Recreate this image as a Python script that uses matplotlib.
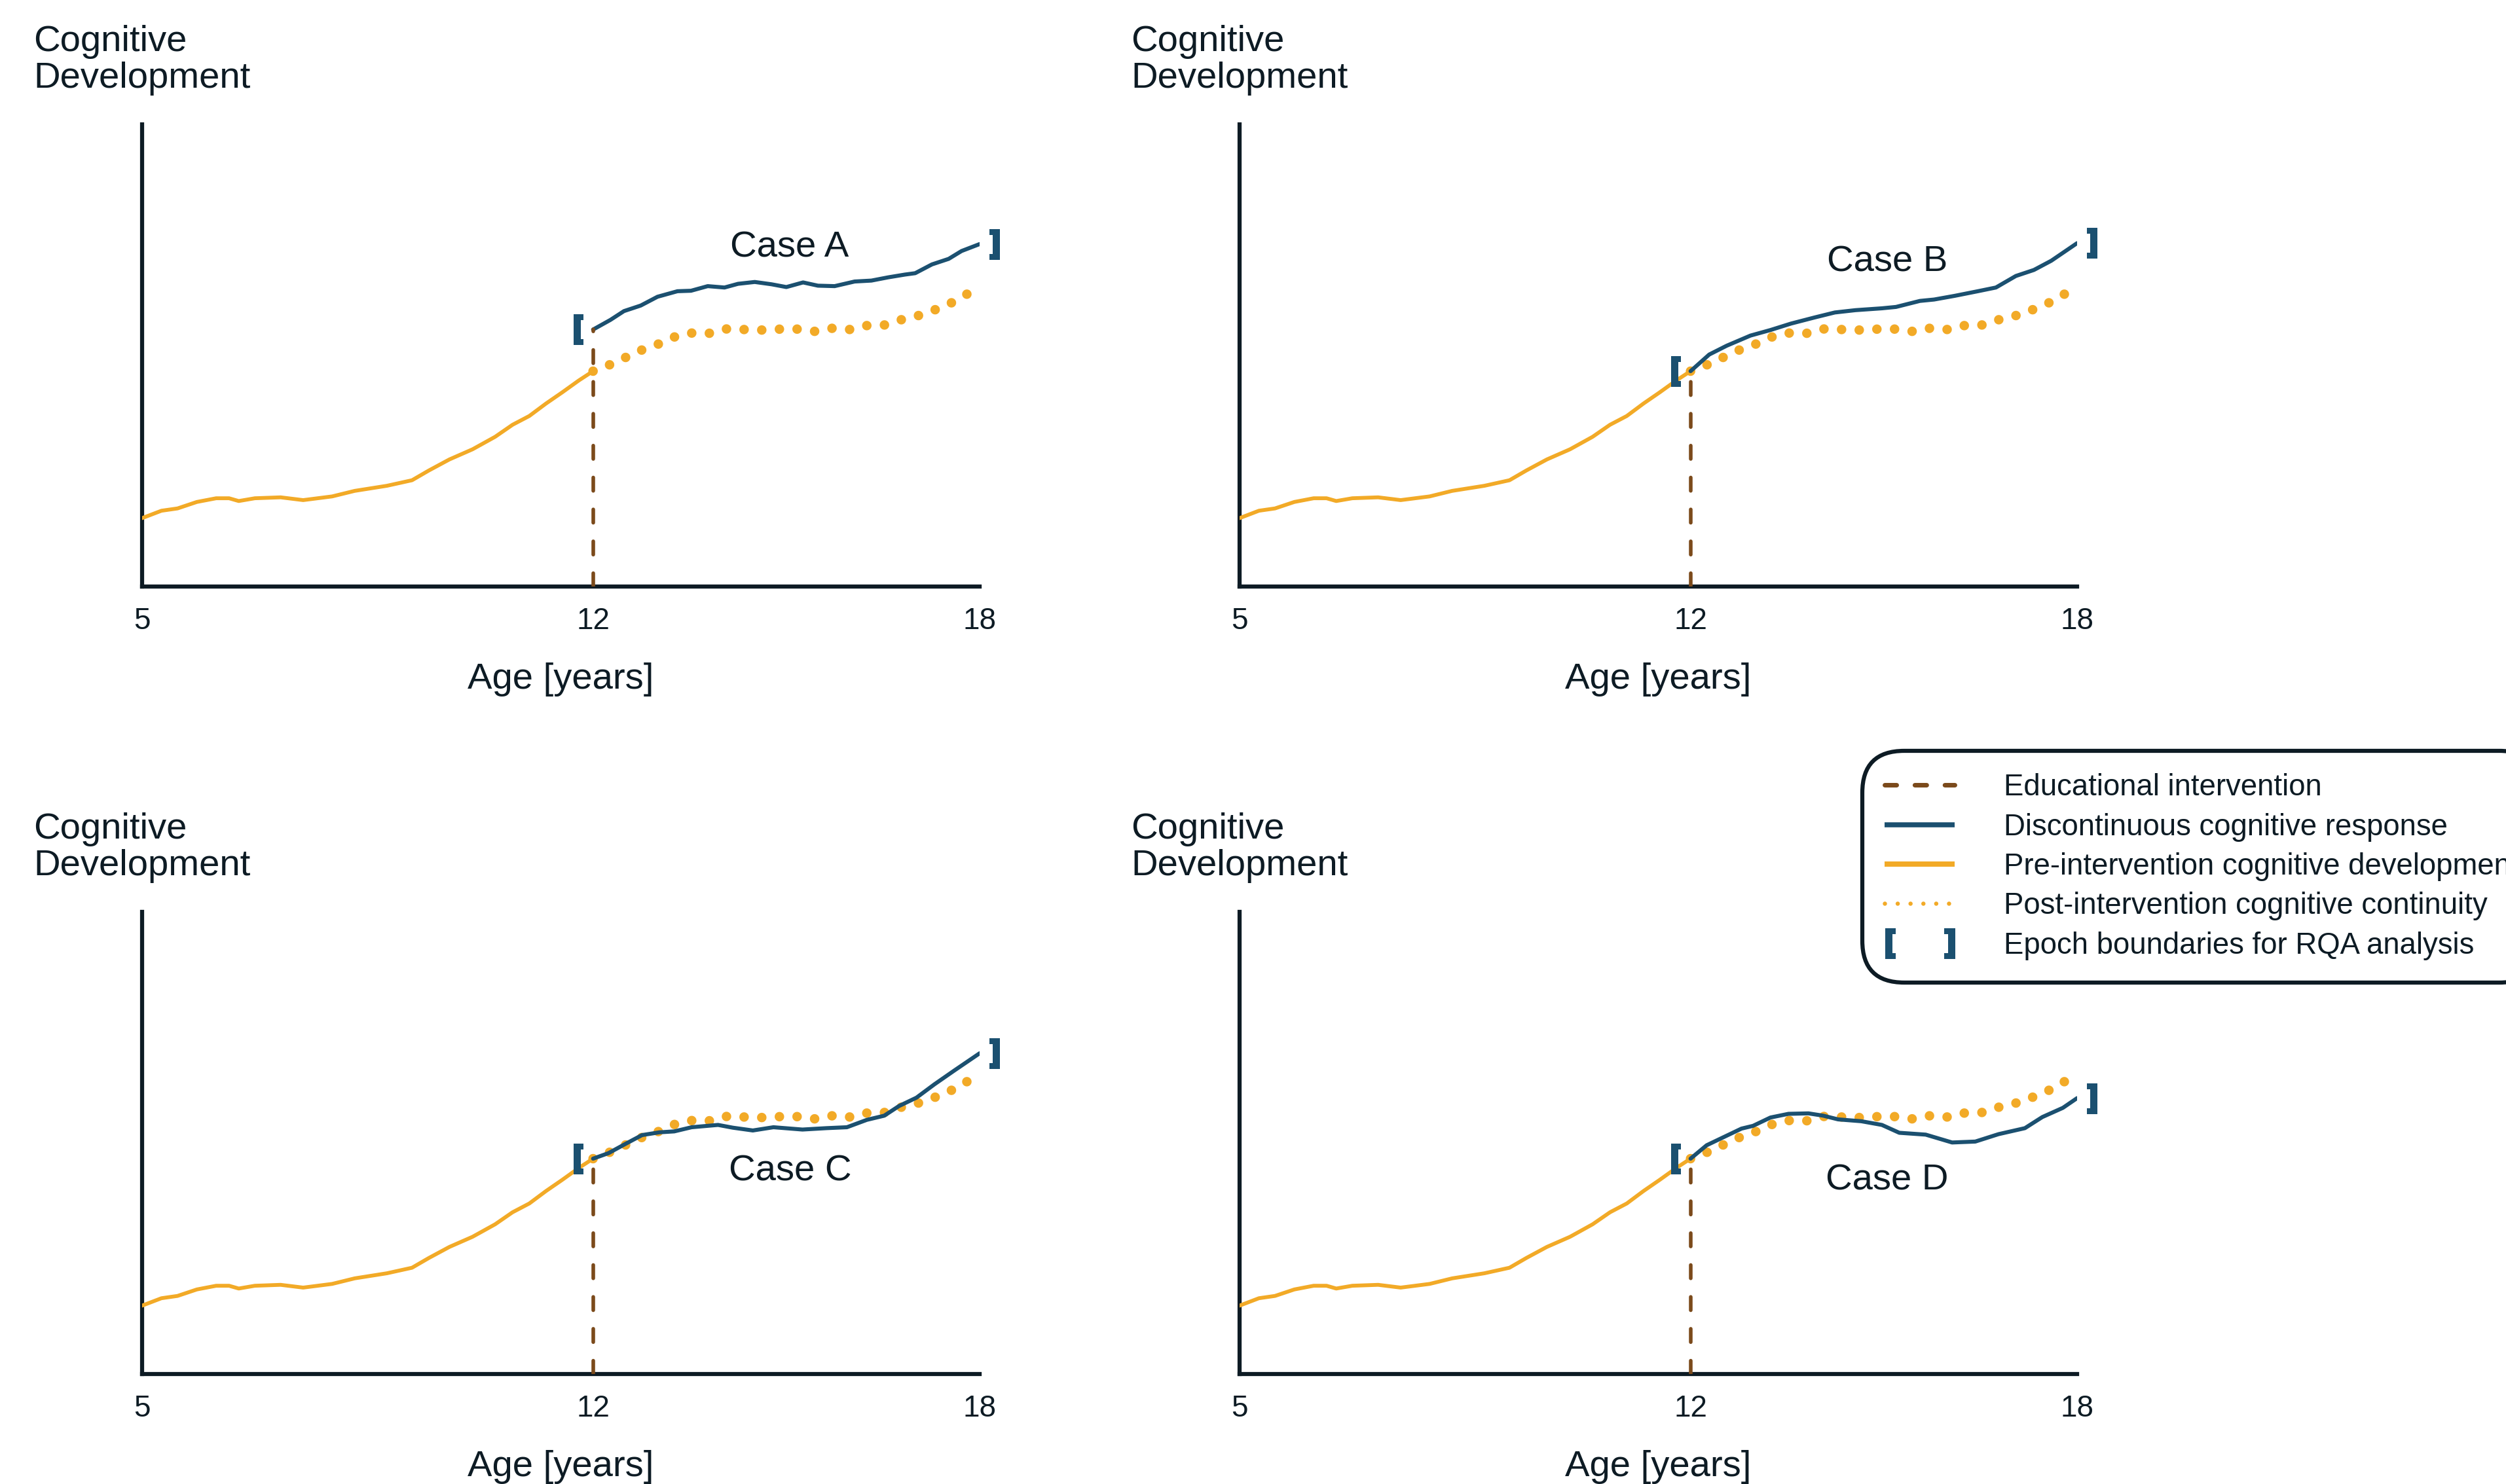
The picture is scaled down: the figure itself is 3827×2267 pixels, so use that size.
import matplotlib
matplotlib.use('Agg')
import matplotlib.pyplot as plt
from matplotlib.path import Path
from matplotlib.lines import Line2D
from matplotlib.transforms import offset_copy

# values (age in years, development in arbitrary 0-100 units)
pre_age = [5.0, 5.3, 5.55, 5.85, 6.15, 6.35, 6.5, 6.75, 7.15, 7.5, 7.95, 8.3,
           8.8, 9.19, 9.45, 9.77, 10.13, 10.48, 10.75, 11.01, 11.27, 11.52, 11.78, 12.0]
pre_val = [14.8, 16.4, 16.9, 18.3, 19.1, 19.1, 18.5, 19.1, 19.3, 18.7, 19.5, 20.7,
           21.8, 23.0, 25.1, 27.5, 29.7, 32.4, 35.0, 36.9, 39.6, 42.0, 44.6, 46.6]

cont_age = [12.0, 12.26, 12.51, 12.76, 13.02, 13.28, 13.55, 13.82, 14.09, 14.36, 14.62, 14.91,
            15.17, 15.45, 15.72, 16.0, 16.26, 16.53, 16.8, 17.07, 17.33, 17.58, 17.82, 18.0]
cont_val = [46.6, 48.0, 49.6, 51.2, 52.5, 54.1, 54.9, 54.8, 55.8, 55.6, 55.5, 55.7,
            55.7, 55.2, 55.9, 55.6, 56.5, 56.6, 57.8, 58.7, 60.0, 61.5, 63.4, 64.5]

a_age = [12.0, 12.27, 12.48, 12.74, 13.0, 13.31, 13.52, 13.78, 14.04, 14.25, 14.51, 14.77, 15.0,
         15.26, 15.49, 15.75, 16.06, 16.32, 16.58, 16.84, 17.0, 17.26, 17.52, 17.72, 18.0]
a_val = [55.6, 57.7, 59.6, 60.8, 62.7, 63.9, 64.0, 65.0, 64.7, 65.5, 65.9, 65.4, 64.8,
         65.8, 65.1, 65.0, 66.0, 66.2, 66.9, 67.5, 67.8, 69.7, 70.9, 72.6, 74.1]

b_age = [12.0, 12.29, 12.56, 12.93, 13.24, 13.56, 13.92, 14.24, 14.56, 14.97,
         15.19, 15.56, 15.78, 16.10, 16.46, 16.74, 17.05, 17.33, 17.60, 18.0]
b_val = [46.6, 50.2, 52.1, 54.3, 55.5, 56.9, 58.2, 59.3, 59.8, 60.2,
         60.5, 61.8, 62.1, 62.9, 63.9, 64.7, 67.2, 68.5, 70.5, 74.3]

c_age = [12.0, 12.24, 12.49, 12.76, 13.03, 13.26, 13.53, 13.94, 14.17, 14.48, 14.80,
         15.25, 15.62, 15.94, 16.25, 16.52, 16.75, 17.02, 17.30, 17.61, 18.0]
c_val = [46.6, 47.8, 49.7, 51.7, 52.3, 52.5, 53.4, 53.9, 53.3, 52.7, 53.4,
         52.9, 53.2, 53.4, 55.0, 55.9, 58.0, 59.8, 62.7, 65.7, 69.4]

d_age = [12.0, 12.25, 12.52, 12.79, 12.97, 13.24, 13.52, 13.83, 14.06, 14.29, 14.65,
         14.97, 15.24, 15.65, 16.06, 16.42, 16.78, 17.19, 17.46, 17.78, 18.0]
d_val = [46.6, 49.5, 51.3, 53.1, 53.7, 55.5, 56.3, 56.4, 55.9, 55.1, 54.7,
         53.9, 52.2, 51.8, 50.1, 50.3, 51.9, 53.2, 55.6, 57.6, 59.7]

case_names = ['Case A', 'Case B', 'Case C', 'Case D']
case_ages = [a_age, b_age, c_age, d_age]
case_vals = [a_val, b_val, c_val, d_val]

x_ticks = [5, 12, 18]
x_label = 'Age [years]'
y_label = 'Cognitive\nDevelopment'
legend_labels = ['Educational intervention',
                 'Discontinuous cognitive response',
                 'Pre-intervention cognitive development',
                 'Post-intervention cognitive continuity',
                 'Epoch boundaries for RQA analysis']

ORANGE = '#F2AA27'
BLUE = '#1B5070'
BROWN = '#7B4A1B'
INK = '#0D1B24'

W, H, DPI = 3827, 2267, 100

plt.rcParams['font.family'] = ['Liberation Sans', 'DejaVu Sans']
plt.rcParams['text.color'] = INK


def bracket_path(side, out=30.5, inn=15.0, half=23.5, bar=11.0, serif=9.0):
    # "[" (left) or "]" (right) drawn beside a point, sizes in pixels
    s = -1 if side == 'left' else 1
    verts = [(s * out, half), (s * inn, half), (s * inn, half - serif),
             (s * (out - bar), half - serif), (s * (out - bar), -half + serif),
             (s * inn, -half + serif), (s * inn, -half), (s * out, -half),
             (s * out, half)]
    return Path(verts, closed=True)


def marker_size(path):
    # markers are rescaled so the largest |vertex| is half the marker size
    return 2 * abs(path.vertices).max() * 72 / DPI


fig = plt.figure(figsize=(W / DPI, H / DPI), dpi=DPI)

panel_px = [(217, 190), (1893, 190), (217, 1393), (1893, 1393)]
ax_w, ax_h = 1279, 706
label_pos = [(15.05, 73.3), (15.05, 70.2), (15.06, 43.8), (15.05, 41.9)]

lbr = bracket_path('left')
rbr = bracket_path('right')

for i, (l, t) in enumerate(panel_px):
    ax = fig.add_axes([l / W, 1 - (t + ax_h) / H, ax_w / W, ax_h / H])
    ax.set_xlim(5, 18)
    ax.set_ylim(0, 100)
    for sp in ['top', 'right']:
        ax.spines[sp].set_visible(False)
    for sp in ['left', 'bottom']:
        ax.spines[sp].set_linewidth(4.5)
        ax.spines[sp].set_color(INK)
    ax.set_xticks(x_ticks)
    ax.set_yticks([])
    ax.tick_params(axis='x', length=0, pad=22, labelsize=33, labelcolor=INK)
    ax.set_xlabel(x_label, fontsize=40.5, labelpad=30, color=INK)
    ax.text(0, 1, y_label, transform=offset_copy(ax.transAxes, fig=fig, x=-166, y=152, units='dots'),
            ha='left', va='top', fontsize=40.5, linespacing=1.09)

    ages, vals = case_ages[i], case_vals[i]
    ax.plot(pre_age, pre_val, color=ORANGE, lw=4.2, solid_capstyle='round',
            solid_joinstyle='round', zorder=3)
    ax.plot(cont_age, cont_val, color=ORANGE, lw=10.5, linestyle=(0, (0.001, 1.85)),
            dash_capstyle='round', zorder=3)
    ax.plot(ages, vals, color=BLUE, lw=4.4, solid_capstyle='round',
            solid_joinstyle='round', zorder=4)
    ax.plot([ages[0], ages[0]], [0, vals[0]], color=BROWN, lw=4.0,
            linestyle=(0, (3.67, 5.1)), dash_capstyle='round', zorder=5)
    ax.plot([ages[0]], [vals[0]], ls='none', marker=lbr, ms=marker_size(lbr),
            color=BLUE, mew=0, clip_on=False, zorder=6)
    ax.plot([ages[-1]], [vals[-1]], ls='none', marker=rbr, ms=marker_size(rbr),
            color=BLUE, mew=0, clip_on=False, zorder=6)
    ax.text(label_pos[i][0], label_pos[i][1], case_names[i], ha='center', va='center',
            fontsize=40.5, zorder=7)

# legend with proxy handles
leg_br = Path.make_compound_path(bracket_path('left', out=53.5, inn=37.0),
                                 bracket_path('right', out=53.5, inn=37.0))
handles = [
    Line2D([], [], color=BROWN, lw=5, linestyle=(0, (2.6, 4.0)), dash_capstyle='round'),
    Line2D([], [], color=BLUE, lw=5.5, solid_capstyle='butt'),
    Line2D([], [], color=ORANGE, lw=5.8, solid_capstyle='butt'),
    Line2D([], [], color=ORANGE, lw=4.7, linestyle=(0, (0.001, 3.0)), dash_capstyle='round'),
    Line2D([], [], ls='none', marker=leg_br, ms=marker_size(leg_br), color=BLUE, mew=0),
]
leg = fig.legend(handles, legend_labels, loc='upper left',
                 bbox_to_anchor=(2844 / W, 1 - 1147 / H), fontsize=32.8,
                 handlelength=2.35, handletextpad=1.64, borderpad=0.75,
                 labelspacing=0.36, borderaxespad=0, fancybox=True,
                 edgecolor=INK, framealpha=1, labelcolor=INK, numpoints=1)
leg.get_frame().set_linewidth(4.5)
leg.get_frame().set_boxstyle('round', pad=0, rounding_size=1.4)

fig.savefig('out.png', dpi=DPI, facecolor='white')
